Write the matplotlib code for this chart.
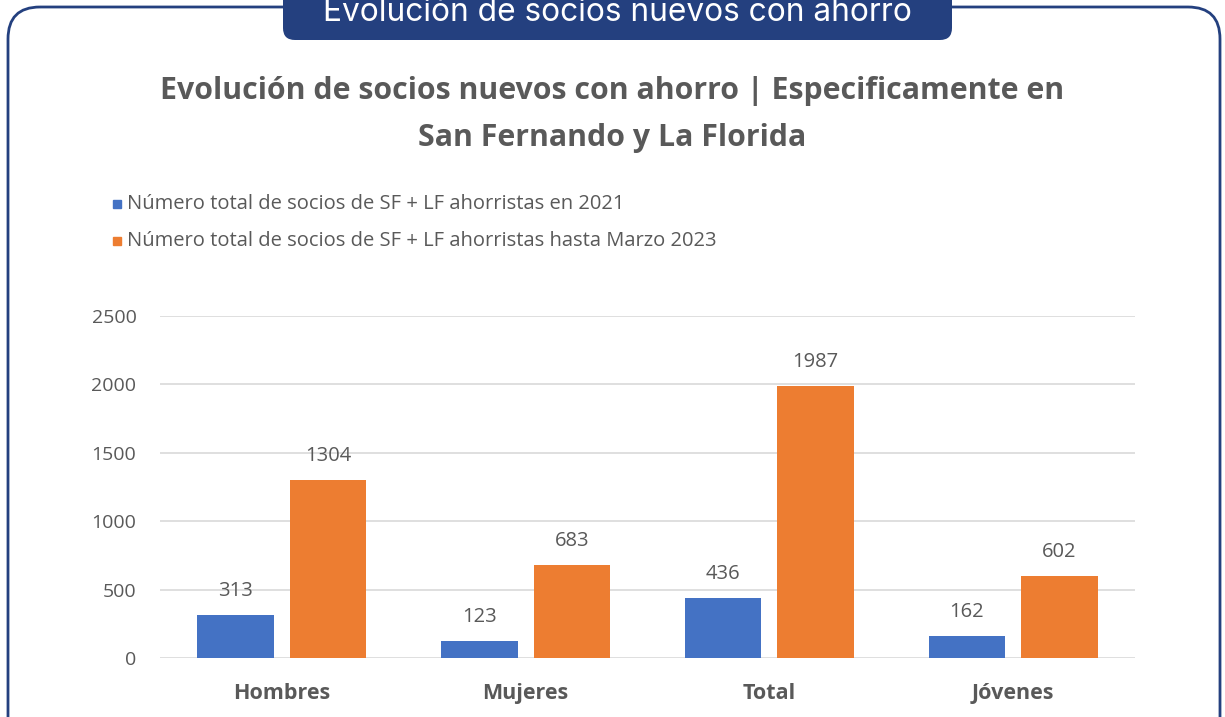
import matplotlib
matplotlib.use("Agg")
import matplotlib.pyplot as plt
import numpy as np
from matplotlib.patches import FancyBboxPatch

categories = ["Hombres", "Mujeres", "Total", "Jóvenes"]
series_names = ["Número total de socios de SF + LF ahorristas en 2021",
                "Número total de socios de SF + LF ahorristas hasta Marzo 2023"]
values_2021 = [313, 123, 436, 162]
values_2023 = [1304, 683, 1987, 602]
yticks = [0, 500, 1000, 1500, 2000, 2500]

header = "Evolución de socios nuevos con ahorro"
title_lines = ["Evolución de socios nuevos con ahorro | Especificamente en",
               "San Fernando y La Florida"]

W, H = 1225, 717
fig = plt.figure(figsize=(W / 100, H / 100), dpi=100)
fig.patch.set_facecolor("white")
FONT = "Open Sans"

# background / frame axes
bg = fig.add_axes([0, 0, 1, 1])
bg.set_xlim(0, W)
bg.set_ylim(H, 0)
bg.axis("off")
navy = "#24407f"
frame = FancyBboxPatch((8, 7), 1212, 780, boxstyle="round,pad=0,rounding_size=32",
                       facecolor="none", edgecolor=navy, linewidth=2.0)
bg.add_patch(frame)
tab = FancyBboxPatch((283, -40), 669, 80, boxstyle="round,pad=0,rounding_size=12",
                     facecolor=navy, edgecolor="none")
bg.add_patch(tab)
bg.text(617, 21, header, color="white", fontsize=22.8, ha="center", va="baseline",
        family="Inter")

gray = "#595959"
bg.text(612, 91, title_lines[0], color=gray, fontsize=21.8, fontweight="bold",
        ha="center", va="center", family=FONT)
bg.text(612, 138, title_lines[1], color=gray, fontsize=21.8, fontweight="bold",
        ha="center", va="center", family=FONT)

blue = "#4472c4"
orange = "#ed7d31"
bg.add_patch(plt.Rectangle((113, 200), 8, 8, color=blue))
bg.add_patch(plt.Rectangle((113, 237), 8, 8, color=orange))
bg.text(127, 204, series_names[0], color=gray, fontsize=14.5, va="center", family=FONT)
bg.text(127, 241, series_names[1], color=gray, fontsize=14.5, va="center", family=FONT)

# chart axes
left, right, top, bottom = 160, 1135, 316, 658
ax = fig.add_axes([left / W, 1 - bottom / H, (right - left) / W, (bottom - top) / H])
ax.set_facecolor("none")
x = np.arange(len(categories))
bw = 0.314
off = 0.19
b1 = ax.bar(x - off, values_2021, bw, color=blue, zorder=3)
b2 = ax.bar(x + off, values_2023, bw, color=orange, zorder=3)
for bars, vals in ((b1, values_2021), (b2, values_2023)):
    for r, v in zip(bars, vals):
        ax.annotate(str(v), (r.get_x() + r.get_width() / 2, v), xytext=(0, 10),
                    textcoords="offset points", ha="center", va="bottom",
                    color=gray, fontsize=14.5, family=FONT)
ax.set_xlim(-0.5, 3.5)
ax.set_ylim(0, 2500)
ax.set_yticks(yticks)
ax.set_yticklabels([str(t) for t in yticks], color=gray, fontsize=14, family=FONT)
ax.set_xticks(x)
ax.set_xticklabels(categories, color=gray, fontsize=15.5, fontweight="bold", family=FONT)
ax.tick_params(axis="y", length=0, pad=17)
ax.tick_params(axis="x", length=0, pad=18)
ax.grid(axis="y", color="#d9d9d9", linewidth=1.2, zorder=0)
for s in ax.spines.values():
    s.set_visible(False)

fig.savefig("out.png", dpi=100, facecolor="white")
